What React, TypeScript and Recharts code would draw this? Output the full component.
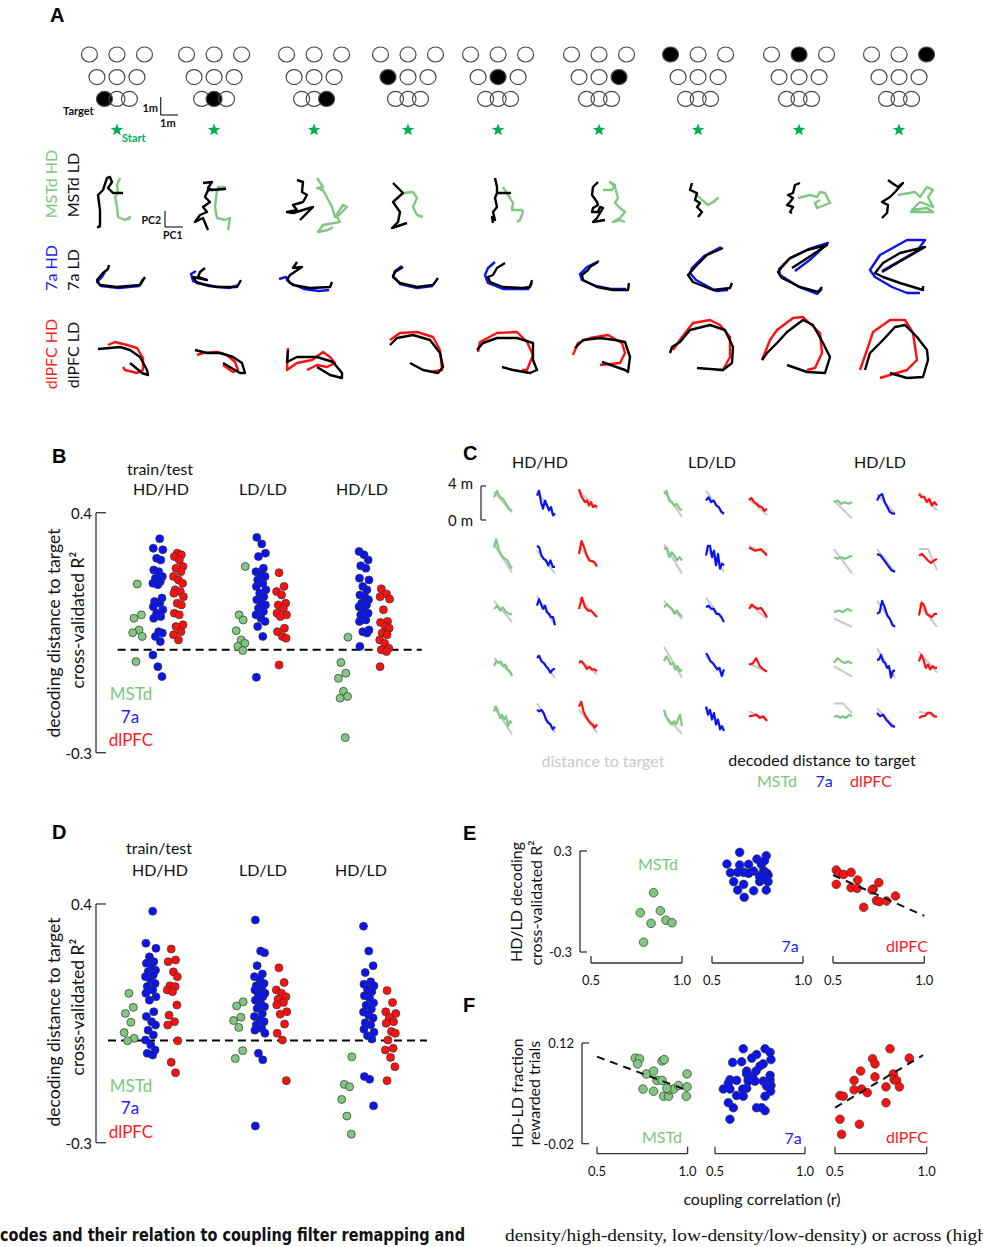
import React from 'react';
import { ScatterChart, Scatter, XAxis, YAxis, ReferenceLine } from 'recharts';

const FONT = 'Lato, "Open Sans", "DejaVu Sans", sans-serif';
const HEAD = '"Liberation Sans", Arial, sans-serif';
const GREEN = '#80c880';
const GREEN_TXT = '#7cc77c';
const BLUE = '#0a14f0';
const BLUE_TXT = '#1a1aff';
const RED = '#ff1010';
const RED_TXT = '#ff1a1a';
const STAR_GREEN = '#00b050';
const TRUE_GRAY = '#c8c8c8';

// ---------------- Panel A data ----------------
const CONFIG_CENTERS_M = [7.31, 13.38, 19.63, 25.5, 31.13, 37.44, 43.63, 49.94, 56.19];
const TARGET_ROW_Y_M = [1.94, 3.31, 4.72];
const TARGET_ROW_DX_M = [[-0.78, 0, 0.78], [-1.25, 0, 1.25], [-1.72, 0, 1.72]];
const FILLED_TARGET = [0, 1, 2, 3, 4, 5, 6, 7, 8];
const TRAJ_COL_X = [117, 214, 314, 408, 498, 599, 698, 799, 899];

const MSTD_LD = [
  [[-16,-21],[-19,-22],[-17,-20],[-17,-5],[-19,10],[-14,15],[-10,27],[-7,28],[-5,23],[-9,17],[-4,12],[6,12]],
  [[-11,22],[-2,23],[-6,17],[-2,15],[11,16],[-6,15],[-9,8],[-4,3],[-11,-2],[-7,-7],[-14,-10],[-19,-17],[-11,-13],[-6,-25]],
  [[-17,25],[-11,23],[-12,13],[-7,10],[-11,3],[-21,0],[-17,-5],[-27,-7],[-21,-8],[-1,-2],[-14,-15]],
  [[-15,22],[-10,17],[-5,12],[-15,3],[-8,-7],[-10,-17],[-16,-23],[-1,-18]],
  [[-3,27],[-1,18],[-1,12],[12,12],[-1,12],[-3,7],[-1,-2],[-5,-7],[-3,-15],[-6,-12],[-5,-18]],
  [[-1,23],[-6,18],[-7,10],[-2,3],[-1,0],[-6,-3],[-7,-7],[-1,-7],[1,-2],[4,-3],[-2,-13],[-6,-17],[6,-15]],
  [[-6,22],[-8,15],[-1,12],[-3,5],[2,2],[-1,-2],[4,-7],[0,-12]],
  [[1,22],[-4,20],[-6,12],[-11,10],[-6,7],[-9,3],[-12,0],[-6,-2],[-9,-7],[-7,-8]],
  [[-11,25],[-7,22],[-1,18],[4,22],[-4,13],[-9,8],[-17,3],[-11,0],[-12,-8],[-17,-13]],
];
const MSTD_HD = [
  [[3,27],[0,20],[1,13],[-2,8],[0,-2],[1,-12],[8,-15],[13,-12],[11,-15]],
  [[3,18],[11,18],[3,15],[1,-2],[3,-13],[11,-15],[16,-13],[14,-25]],
  [[3,27],[9,18],[3,17],[9,15],[18,-2],[21,-12],[29,0],[33,-2],[23,-12],[26,-17],[9,-20],[4,-27],[14,-25],[19,-22]],
  [[-5,12],[5,13],[9,7],[5,-2],[9,-10],[15,-12]],
  [[5,18],[12,7],[15,2],[14,-5],[24,-5],[25,-7],[22,-15],[19,-17]],
  [[4,15],[13,15],[16,20],[11,23],[16,18],[19,7],[16,2],[21,-3],[26,-7],[21,-13],[14,-17],[21,-15],[26,-17]],
  [[-6,15],[-1,10],[4,5],[10,0],[15,3],[20,7],[15,2]],
  [[-1,7],[11,10],[18,8],[21,13],[26,12],[31,2],[18,-3],[16,2],[21,5]],
  [[-1,10],[16,13],[21,8],[28,18],[34,15],[29,8],[34,-2],[21,3],[13,-5],[28,-3],[34,-7],[11,-7]],
];
const A7_LD = [
  [[-8,12],[-9,8],[-14,4],[-20,-3],[-17,-8],[0,-10],[23,-8],[28,0]],
  [[-9,9],[-14,5],[-16,0],[-7,-3],[-21,0],[-17,-6],[3,-10],[23,-10],[27,-3]],
  [[-17,15],[-21,9],[-12,10],[-24,2],[-27,-3],[-21,-8],[-4,-11],[16,-10],[18,-5]],
  [[-5,10],[-13,5],[-15,0],[-8,-6],[9,-10],[25,-8],[30,-1]],
  [[7,14],[-1,9],[-5,2],[-10,0],[-8,-5],[5,-10],[25,-11],[32,-10],[34,-3]],
  [[-1,15],[-9,10],[-11,7],[-17,2],[-16,-3],[-2,-10],[14,-13],[29,-13],[30,-6]],
  [[25,29],[9,22],[-1,12],[-10,2],[-5,-5],[15,-13],[32,-11],[34,-6]],
  [[-7,9],[10,20],[28,32],[8,27],[-9,19],[-17,10],[-21,5],[-17,-1],[1,-10],[19,-15],[23,-10]],
  [[-17,5],[0,15],[26,30],[1,24],[-16,14],[-24,4],[-16,0],[1,-6],[24,-13],[24,-9]],
];
const A7_HD = [
  [[-12,5],[-15,0],[-20,-5],[-16,-9],[2,-11],[22,-9],[26,-2]],
  [[-18,6],[-23,3],[-21,-4],[-5,-9],[15,-11],[25,-8]],
  [[-35,-2],[-28,0],[-24,-6],[-10,-12],[5,-14],[15,-13]],
  [[-6,11],[-13,6],[-15,1],[-8,-7],[9,-11],[25,-9]],
  [[-3,15],[-10,9],[-13,2],[-10,-6],[5,-12],[30,-12],[34,-6]],
  [[0,16],[-12,10],[-19,3],[-17,-3],[-3,-9],[12,-12],[27,-12]],
  [[23,30],[6,21],[-6,9],[-8,4],[-2,-3],[18,-14],[30,-13]],
  [[-4,6],[12,18],[29,34],[10,28],[-10,18],[-20,8],[-19,2],[0,-10],[18,-17],[23,-12]],
  [[-17,6],[18,26],[26,37],[8,37],[-19,22],[-29,7],[-24,0],[-7,-10],[8,-16],[21,-16]],
];
const PFC_LD = [
  [[-19,3],[-7,4],[3,5],[13,2],[23,-5],[30,-18],[31,-23],[25,-21],[13,-11]],
  [[-19,2],[-7,-1],[6,-1],[19,-5],[28,-11],[31,-21],[26,-21],[9,-11]],
  [[-26,2],[-27,-10],[-17,-5],[3,-5],[19,-10],[28,-21],[28,-26],[16,-23],[3,-15]],
  [[-18,7],[-11,14],[5,17],[22,12],[32,-1],[35,-15],[30,-21],[15,-18],[2,-11]],
  [[-21,2],[-15,9],[-1,14],[19,14],[35,9],[35,-8],[39,-18],[32,-21],[15,-18],[4,-15]],
  [[-24,4],[-16,12],[1,14],[16,12],[26,10],[31,-5],[29,-20],[26,-18],[3,-10]],
  [[-28,-1],[-26,5],[-18,10],[-8,22],[12,27],[27,22],[35,5],[34,-11],[25,-18],[-1,-16]],
  [[-37,-8],[-32,-1],[-22,9],[-12,20],[4,32],[14,27],[24,9],[31,-5],[26,-21],[8,-20],[-12,-13]],
  [[-34,-18],[-29,-1],[-16,12],[-4,25],[6,27],[18,15],[28,2],[29,-8],[24,-25],[8,-26],[-9,-21]],
];
const PFC_HD = [
  [[-9,7],[-2,10],[10,7],[20,4],[26,-6],[26,-18],[20,-21],[8,-18],[6,-15]],
  [[-17,-3],[-11,-1],[3,0],[13,-3],[21,-10],[24,-18],[19,-20],[9,-13]],
  [[-26,4],[-27,-18],[-17,-11],[-2,-8],[9,0],[16,-5],[21,-11],[13,-15],[3,-13],[-7,-18]],
  [[-18,12],[-8,19],[9,20],[25,15],[32,2],[34,-18],[22,-20]],
  [[-20,0],[-18,10],[-1,19],[19,20],[29,10],[35,-3],[29,-18],[24,-18]],
  [[-26,-3],[-21,9],[-9,14],[9,17],[23,9],[26,-1],[21,-11],[1,-13]],
  [[-25,2],[-16,15],[-5,29],[12,32],[22,27],[32,15],[32,-5],[25,-18],[19,-18]],
  [[-37,-8],[-29,12],[-22,22],[-6,34],[4,35],[21,19],[23,-1],[16,-16],[8,-18]],
  [[-39,-18],[-32,2],[-26,20],[-9,32],[6,32],[14,19],[18,-8],[8,-18],[-9,-23],[-19,-26]],
];

// ---------------- Panel B / D data ----------------
const REGIONS = ['MSTd', '7a', 'dlPFC'];
const TRAIN_TEST = ['HD/HD', 'LD/LD', 'HD/LD'];
const B_HDHD_MSTD = [0.192,0.102,0.092,0.058,0.050,0.039,-0.034];
const B_HDHD_7A = [0.324,0.296,0.292,0.267,0.262,0.233,0.228,0.214,0.209,0.199,0.194,0.190,0.151,0.141,0.136,0.126,0.117,0.107,0.097,0.092,0.053,0.049,0.039,0.024,-0.015,-0.049,-0.078];
const B_HDHD_PFC = [0.282,0.277,0.272,0.262,0.243,0.238,0.228,0.214,0.204,0.194,0.175,0.170,0.165,0.155,0.136,0.131,0.107,0.102,0.073,0.068,0.053,0.044,0.029];
const B_LDLD_MSTD = [0.243,0.102,0.087,0.056,0.029,0.019,0.010,-0.002];
const B_LDLD_7A = [0.328,0.309,0.282,0.272,0.238,0.228,0.219,0.214,0.204,0.194,0.185,0.175,0.165,0.155,0.146,0.136,0.131,0.121,0.112,0.102,0.092,0.083,0.068,0.039,-0.080];
const B_LDLD_PFC = [0.225,0.185,0.170,0.160,0.136,0.131,0.121,0.107,0.102,0.097,0.063,0.053,0.039,0.034,-0.044];
const B_HDLD_MSTD = [0.037,-0.037,-0.068,-0.083,-0.121,-0.136,-0.141,-0.256];
const B_HDLD_7A = [0.287,0.277,0.262,0.245,0.238,0.209,0.204,0.185,0.175,0.160,0.155,0.146,0.136,0.131,0.126,0.117,0.107,0.102,0.087,0.083,0.058,0.053,0.049,0.010];
const B_HDLD_PFC = [0.178,0.163,0.155,0.148,0.117,0.083,0.080,0.068,0.063,0.049,0.044,0.029,0.019,0.005,0.000,-0.005,-0.049];

const D_HDHD_MSTD = [0.138,0.097,0.079,0.053,0.023,0.006,-0.001];
const D_HDHD_7A = [0.379,0.285,0.270,0.245,0.231,0.226,0.216,0.206,0.201,0.192,0.187,0.177,0.167,0.158,0.148,0.138,0.128,0.118,0.084,0.070,0.055,0.045,0.030,0.016,0.001,-0.013,-0.028,-0.038,-0.043];
const D_HDHD_PFC = [0.268,0.236,0.231,0.201,0.187,0.160,0.158,0.148,0.143,0.104,0.074,0.055,0.045,-0.001,-0.064,-0.095];
const D_LDLD_MSTD = [0.113,0.101,0.068,0.058,0.038,-0.030,-0.053];
const D_LDLD_7A = [0.353,0.262,0.257,0.219,0.195,0.187,0.179,0.167,0.160,0.153,0.148,0.138,0.133,0.128,0.118,0.109,0.099,0.094,0.079,0.070,0.060,0.055,0.045,0.035,0.030,0.021,-0.038,-0.057,-0.251];
const D_LDLD_PFC = [0.213,0.170,0.148,0.138,0.128,0.121,0.111,0.104,0.084,0.077,0.048,0.021,0.001,-0.118];
const D_HDLD_MSTD = [-0.048,-0.129,-0.136,-0.173,-0.222,-0.275];
const D_HDLD_7A = [0.335,0.262,0.219,0.199,0.172,0.165,0.160,0.150,0.143,0.131,0.124,0.110,0.103,0.092,0.083,0.074,0.066,0.052,0.046,0.033,0.024,0.014,0.004,-0.106,-0.114,-0.192];
const D_HDLD_PFC = [0.146,0.111,0.084,0.079,0.068,0.055,0.050,0.026,0.021,0.001,-0.023,-0.028,-0.050,-0.077,-0.118];

const B_GROUPS = [[B_HDHD_MSTD,B_HDHD_7A,B_HDHD_PFC],[B_LDLD_MSTD,B_LDLD_7A,B_LDLD_PFC],[B_HDLD_MSTD,B_HDLD_7A,B_HDLD_PFC]];
const D_GROUPS = [[D_HDHD_MSTD,D_HDHD_7A,D_HDHD_PFC],[D_LDLD_MSTD,D_LDLD_7A,D_LDLD_PFC],[D_HDLD_MSTD,D_HDLD_7A,D_HDLD_PFC]];
const JITTER = [0, 0.2, -0.16, 0.09, -0.22, 0.24, -0.06, 0.14, -0.2, 0.04, 0.22, -0.12, 0.12, -0.24];

// ---------------- Panel C data (metres) ----------------
const C_HDHD = [
  [{dec:[2.67,3.43,2.67,2.48,1.9,1.33,1.07],tru:[3.3,0.9]},{dec:[2.86,3.43,2.1,1.33,2.29,1.71,1.14,1.52,0.57,0.76],tru:[3.4,0.4]},{dec:[3.62,2.86,2.48,2.1,2.29,1.71,2.1,1.52,1.71,1.52],tru:[3.43,1.33]}],
  [{dec:[3.24,4.19,3.05,2.48,2.1,1.9,1.71,1.14,0.76],tru:[3.6,0.3]},{dec:[3.43,3.24,2.29,1.9,1.71,1.14,1.71,0.95,0.95],tru:[2.86,0.19]},{dec:[2.48,4.0,3.24,2.29,1.71,1.64,1.52,1.03],tru:[3.4,0.9]}],
  [{dec:[2.48,2.86,2.29,2.67,2.1,1.9,1.83],tru:[3.43,0.95]},{dec:[2.86,3.62,3.05,2.48,2.86,2.1,1.9,1.52,1.52,0.57],tru:[4.0,0.57]},{dec:[2.48,3.81,2.67,2.29,2.29,1.9,1.52],tru:[3.81,1.52]}],
  [{dec:[2.1,2.67,2.48,2.67,2.1,2.29,1.71,1.52,0.95],tru:[3.05,1.14]},{dec:[3.05,3.31,2.67,2.48,2.1,1.79,1.33,1.71,1.79],tru:[3.43,0.76]},{dec:[2.48,2.67,2.29,1.79,2.02,1.71,1.71,1.52],tru:[2.86,1.14]}],
  [{dec:[3.24,3.81,3.24,2.48,2.86,2.29,2.67,1.52,2.1,1.9],tru:[3.81,0.57]},{dec:[3.43,3.24,3.43,3.05,2.29,1.9,1.71,1.14,1.45],tru:[4.19,0.76]},{dec:[3.81,4.38,3.24,2.67,2.29,1.9,1.71,1.33,1.71],tru:[3.43,0.76]}],
];
const C_LDLD = [
  [{dec:[3.05,3.43,2.29,2.1,1.71,1.9,1.33,1.14],tru:[3.43,0.38]},{dec:[2.29,2.67,2.1,2.29,1.71,1.52,0.95,0.76],tru:[3.43,0.57]},{dec:[2.36,2.59,2.1,1.9,1.6,1.52,1.07,1.33],tru:[2.48,0.57]}],
  [{dec:[3.05,3.24,2.1,2.67,2.29,1.71,2.1,1.71],tru:[3.62,0.19]},{dec:[2.29,3.43,3.43,2.1,2.86,1.14,2.48,0.76,1.33,1.14],tru:[3.24,0.38]},{dec:[3.24,2.86,3.05,2.29],tru:[3.43,2.5]}],
  [{dec:[2.67,3.05,2.74,2.48,1.9,2.29,1.9,1.52],tru:[3.43,1.33]},{dec:[2.67,2.86,2.48,2.48,1.9,1.9,1.52,0.95],tru:[3.81,0.95]},{dec:[2.48,2.97,2.67,2.48,2.59,2.1,1.52],tru:[3.05,1.33]}],
  [{dec:[2.67,3.24,2.86,2.29,2.48,1.71,2.1,1.52,1.71],tru:[4.38,0.76]},{dec:[3.62,3.24,2.67,2.48,2.1,1.71,1.9,0.95,1.71],tru:[3.24,0.95]},{dec:[2.29,2.4,3.05,2.1,1.71,1.45],tru:[2.4,1.45]}],
  [{dec:[3.43,2.67,2.29,1.9,1.71,2.1,1.71,2.29,2.86,1.52],tru:[2.9,0.6]},{dec:[3.81,2.86,3.43,2.29,3.05,1.71,2.29,1.14,1.52,0.95],tru:[3.81,0.95]},{dec:[2.67,2.74,2.86,2.48,2.67,2.1],tru:[3.24,2.29]}],
];
const C_HDLD = [
  [{dec:[2.1,2.29,1.9,2.1,1.9,2.1],tru:[2.29,0.19]},{dec:[2.29,2.86,3.05,2.1,1.52,0.95,0.76,0.76],tru:[3.05,0.76]},{dec:[3.05,2.67,2.74,2.1,2.48,1.71,2.1,1.71],tru:[3.24,1.14]}],
  [{dec:[2.1,1.9,2.1,1.9,2.1,2.29],tru:[3.05,0.19]},{dec:[2.48,2.29,1.71,1.14,0.57,0.38],tru:[3.05,0.38]},{dec:[2.29,2.48,2.1,1.71,1.41,1.71,1.9],tru:[3.05,3.05,0.57]}],
  [{dec:[2.1,2.29,2.1,2.48,2.21],tru:[1.33,0.38]},{dec:[1.9,2.1,3.43,2.67,1.71,1.33,0.57,0.38],tru:[3.43,0.38]},{dec:[1.71,3.24,2.86,1.9,1.71,1.52,1.9,1.9],tru:[3.05,0.38]}],
  [{dec:[2.48,3.05,2.67,2.48,2.67,2.4],tru:[2.1,0.88]},{dec:[2.86,2.86,3.43,2.67,2.48,1.9,2.1,0.76,1.52,1.6],tru:[4.19,0.76]},{dec:[2.67,3.43,2.86,1.9,2.29,1.71,2.1,1.9,1.9],tru:[3.81,1.33]}],
  [{dec:[2.59,2.74,2.48,2.67,2.48,2.86,2.67],tru:[4.19,4.19,3.05]},{dec:[3.05,2.67,2.86,2.29,1.9,1.52,1.45],tru:[3.62,1.33]},{dec:[2.48,2.67,2.74,3.12,3.05,2.67,2.59],tru:[3.24,2.67]}],
];
const C_COL_X = [503, 546, 588, 673, 715, 758, 843, 886, 928];
const C_ROW_ZERO = [520, 575, 630, 684, 739];

// ---------------- Panel E data ----------------
const E_MSTD_R = [0.844,0.771,0.881,0.830,0.912,0.945,0.789];
const E_MSTD_R2 = [0.052,-0.067,-0.055,-0.130,-0.111,-0.126,-0.242];
const E_7A_R = [0.652,0.582,0.652,0.701,0.747,0.798,0.771,0.789,0.601,0.641,0.729,0.784,0.802,0.674,0.762,0.808,0.619,0.674,0.762,0.808,0.641,0.729,0.798,0.677,0.762,0.793,0.701];
const E_7A_R2 = [0.292,0.223,0.217,0.221,0.252,0.272,0.221,0.242,0.171,0.173,0.181,0.183,0.167,0.173,0.153,0.157,0.118,0.102,0.118,0.118,0.068,0.064,0.068,0.025,0.147,0.138,0.167];
const E_PFC_R = [0.518,0.531,0.558,0.599,0.635,0.518,0.599,0.632,0.720,0.751,0.738,0.754,0.793,0.842,0.668,0.714];
const E_PFC_R2 = [0.187,0.167,0.161,0.173,0.128,0.102,0.082,0.078,0.074,0.112,0.005,-0.001,0.003,0.033,-0.034,0.068];
const E_PFC_FIT_R = [0.5, 1.0];
const E_PFC_FIT_R2 = [0.157, -0.085];

// ---------------- Panel F data ----------------
const F_MSTD_R = [0.711,0.735,0.724,0.859,0.871,0.772,0.812,0.831,0.859,0.754,0.812,0.868,0.895,0.901,0.923,0.950,0.997,0.997,0.993,0.886];
const F_MSTD_FR = [0.099,0.098,0.091,0.095,0.097,0.077,0.081,0.068,0.068,0.056,0.053,0.046,0.046,0.055,0.056,0.061,0.077,0.059,0.046,0.057];
const F_MSTD_FIT_R = [0.5, 1.0];
const F_MSTD_FIT_FR = [0.101, 0.054];
const F_7A_R = [0.657,0.778,0.806,0.731,0.704,0.768,0.811,0.648,0.598,0.676,0.728,0.806,0.583,0.574,0.620,0.685,0.709,0.768,0.806,0.811,0.676,0.654,0.546,0.583,0.809,0.620,0.657,0.778,0.574,0.602,0.731,0.759,0.778,0.583,0.685,0.722,0.787,0.750,0.676];
const F_7A_FR = [0.112,0.112,0.107,0.104,0.099,0.091,0.097,0.094,0.093,0.081,0.081,0.075,0.069,0.064,0.068,0.069,0.074,0.067,0.069,0.061,0.057,0.056,0.056,0.056,0.053,0.047,0.046,0.046,0.037,0.030,0.030,0.030,0.026,0.014,0.067,0.067,0.060,0.088,0.077];
const F_PFC_R = [0.800,0.905,0.705,0.718,0.640,0.818,0.718,0.822,0.836,0.604,0.778,0.851,0.604,0.645,0.676,0.527,0.545,0.778,0.527,0.633,0.536];
const F_PFC_FR = [0.112,0.099,0.098,0.091,0.081,0.077,0.073,0.069,0.068,0.068,0.059,0.059,0.055,0.056,0.051,0.047,0.046,0.037,0.014,0.007,-0.007];
const F_PFC_FIT_R = [0.5, 0.98];
const F_PFC_FIT_FR = [0.030, 0.103];

// ---------------- helpers ----------------
const noDot = () => <g />;
const zip = (xs: number[], ys: number[]) => xs.map((x, i) => ({ x, y: ys[i] }));

const targetShape = (p: any) => (
  <ellipse cx={p.cx} cy={p.cy} rx={8} ry={7.5} fill={p.payload.filled ? '#000' : 'none'} stroke="#4a4a4a" strokeWidth={1.2} />
);
const starShape = (p: any) => {
  const pts: string[] = [];
  for (let i = 0; i < 10; i++) {
    const r = i % 2 === 0 ? 6.6 : 2.7;
    const a = -Math.PI / 2 + (i * Math.PI) / 5;
    pts.push(`${p.cx + r * Math.cos(a)},${p.cy + r * Math.sin(a)}`);
  }
  return <polygon points={pts.join(' ')} fill={STAR_GREEN} />;
};
const dotShape = (fill: string, r: number) => (p: any) => (
  <circle cx={p.cx} cy={p.cy} r={r} fill={fill} stroke="#333" strokeWidth={0.7} />
);

const leftTick = (len: number, gap: number, size: number, digits: number) => (p: any) => (
  <g>
    <line x1={p.x} y1={p.y} x2={p.x + len} y2={p.y} stroke="#333" strokeWidth={1.3} />
    <text x={p.x - gap} y={p.y} textAnchor="end" dominantBaseline="central" fontSize={size} fontFamily={FONT} fill="#111">
      {Number(p.payload.value).toFixed(digits)}
    </text>
  </g>
);
const bottomTick = (p: any) => (
  <g>
    <line x1={p.x} y1={p.y} x2={p.x} y2={p.y - 7} stroke="#333" strokeWidth={1.3} />
    <text x={p.x} y={p.y + 17} textAnchor="middle" dominantBaseline="central" fontSize={13} fontFamily={FONT} fill="#111">
      {Number(p.payload.value).toFixed(1)}
    </text>
  </g>
);

const abs = (left: number, top: number, width: number, height: number): React.CSSProperties => ({
  position: 'absolute', left, top, width, height,
});

// ---------------- components ----------------
function TargetsRow() {
  const circles: any[] = [];
  CONFIG_CENTERS_M.forEach((cx, c) => {
    TARGET_ROW_Y_M.forEach((ry, r) => {
      TARGET_ROW_DX_M[r].forEach((dx, k) => {
        circles.push({ x: cx + dx, y: ry, filled: r * 3 + k === FILLED_TARGET[c] });
      });
    });
  });
  const stars = CONFIG_CENTERS_M.map((cx) => ({ x: cx, y: 0 }));
  return (
    <div style={abs(0, 0, 983, 150)}>
      <ScatterChart width={983} height={150} margin={{ top: 0, right: 0, bottom: 0, left: 0 }}>
        <XAxis type="number" dataKey="x" domain={[0, 61.4375]} hide />
        <YAxis type="number" dataKey="y" domain={[-1.25, 8.125]} hide />
        <Scatter data={circles} shape={targetShape} isAnimationActive={false} />
        <Scatter data={stars} shape={starShape} isAnimationActive={false} />
      </ScatterChart>
    </div>
  );
}

function TrajRow({ top, height, domain, hd, ld, color }: any) {
  const toPts = (tr: number[][], i: number) => tr.map(([dx, dy]) => ({ x: TRAJ_COL_X[i] + dx, y: dy }));
  return (
    <div style={abs(0, top, 983, height)}>
      <ScatterChart width={983} height={height} margin={{ top: 0, right: 0, bottom: 0, left: 0 }}>
        <XAxis type="number" dataKey="x" domain={[0, 983]} hide />
        <YAxis type="number" dataKey="y" domain={domain} hide />
        {hd.map((tr: number[][], i: number) => (
          <Scatter key={'h' + i} data={toPts(tr, i)} shape={noDot} isAnimationActive={false}
            line={{ stroke: color, strokeWidth: 2.4, strokeLinejoin: 'round' }} />
        ))}
        {ld.map((tr: number[][], i: number) => (
          <Scatter key={'l' + i} data={toPts(tr, i)} shape={noDot} isAnimationActive={false}
            line={{ stroke: '#000', strokeWidth: 2.4, strokeLinejoin: 'round' }} />
        ))}
      </ScatterChart>
    </div>
  );
}

const REGION_FILL = [GREEN, BLUE, RED];

function StripChart({ top, marginTop, marginBottom, xDomain, dash, groups }: any) {
  const series: any[] = [];
  groups.forEach((g: number[][], gi: number) => {
    g.forEach((vals: number[], ci: number) => {
      series.push({
        key: `${gi}-${ci}`,
        fill: REGION_FILL[ci],
        data: vals.map((v, i) => ({ x: 5 * gi + ci + JITTER[(i + ci * 3 + gi * 5) % JITTER.length], y: v })),
      });
    });
  });
  return (
    <div style={abs(0, top, 440, 280)}>
      <ScatterChart width={440} height={280} margin={{ top: marginTop, right: 10, bottom: marginBottom, left: 0 }}>
        <XAxis type="number" dataKey="x" domain={xDomain} hide />
        <YAxis type="number" dataKey="y" domain={[-0.3, 0.4]} ticks={[0.4, -0.3]} interval={0} width={96}
          axisLine={{ stroke: '#333', strokeWidth: 1.3 }} tickLine={false} tickSize={0} tickMargin={0}
          tick={leftTick(10, 4, 15, 1)} />
        <ReferenceLine segment={[{ x: dash[0], y: 0 }, { x: dash[1], y: 0 }]} stroke="#000" strokeWidth={2} strokeDasharray="8 5" />
        {series.map((s) => (
          <Scatter key={s.key} data={s.data} shape={dotShape(s.fill, 4)} isAnimationActive={false} />
        ))}
      </ScatterChart>
    </div>
  );
}

function TraceCell({ left, top, dec, tru, color }: any) {
  const decPts = dec.map((v: number, i: number) => ({ x: i / (dec.length - 1), y: v }));
  const truPts = tru.map((v: number, i: number) => ({ x: i / (tru.length - 1), y: v }));
  return (
    <div style={abs(left, top, 22, 48)}>
      <ScatterChart width={22} height={48} margin={{ top: 0, right: 2, bottom: 0, left: 2 }}>
        <XAxis type="number" dataKey="x" domain={[0, 1]} hide />
        <YAxis type="number" dataKey="y" domain={[0, 5.647]} hide />
        <Scatter data={truPts} shape={noDot} isAnimationActive={false} line={{ stroke: TRUE_GRAY, strokeWidth: 2 }} />
        <Scatter data={decPts} shape={noDot} isAnimationActive={false} line={{ stroke: color, strokeWidth: 2.2, strokeLinejoin: 'round' }} />
      </ScatterChart>
    </div>
  );
}

// y axis drawn in its own narrow chart; it carries the first sub-plot's points (undrawn) so the axis has data
function CorrYAxis({ axisX, plotTop, plotBottom, domain, ticks, digits, pts }: any) {
  const h = plotBottom - plotTop + 20;
  return (
    <div style={abs(axisX - 60, plotTop - 10, 70, h)}>
      <ScatterChart width={70} height={h} margin={{ top: 10, right: 0, bottom: 10, left: 0 }}>
        <XAxis type="number" dataKey="x" domain={[0, 1]} hide allowDataOverflow />
        <YAxis type="number" dataKey="y" domain={domain} ticks={ticks} interval={0} width={60} allowDataOverflow
          axisLine={{ stroke: '#333', strokeWidth: 1.3 }} tickLine={false} tickSize={0} tickMargin={0}
          tick={leftTick(7, 8, 13, digits)} />
        <Scatter data={pts} shape={noDot} isAnimationActive={false} />
      </ScatterChart>
    </div>
  );
}

function CorrSub({ left, right, plotTop, axisY, yDomain, pts, fill, fit }: any) {
  const w = right - left + 28;
  const h = axisY - plotTop + 40;
  return (
    <div style={abs(left - 14, plotTop - 10, w, h)}>
      <ScatterChart width={w} height={h} margin={{ top: 10, right: 14, bottom: 0, left: 14 }}>
        <XAxis type="number" dataKey="x" domain={[0.5, 1]} ticks={[0.5, 1]} interval={0} height={30}
          axisLine={{ stroke: '#333', strokeWidth: 1.3 }} tickLine={false} tickSize={0} tickMargin={0} tick={bottomTick} />
        <YAxis type="number" dataKey="y" domain={yDomain} hide />
        <Scatter data={pts} shape={dotShape(fill, 4.3)} isAnimationActive={false} />
        {fit ? (
          <Scatter data={fit} shape={noDot} isAnimationActive={false}
            line={{ stroke: '#111', strokeWidth: 2, strokeDasharray: '8 6' }} />
        ) : null}
      </ScatterChart>
    </div>
  );
}

function T({ x, y, children, size = 16, anchor = 'middle', color = '#111', weight = 400, family = FONT, rotate = false }: any) {
  if (rotate) {
    return (
      <text transform={`translate(${x},${y}) rotate(-90)`} textAnchor={anchor} fontSize={size} fill={color} fontWeight={weight} fontFamily={family}>
        {children}
      </text>
    );
  }
  return (
    <text x={x} y={y} textAnchor={anchor} dominantBaseline="central" fontSize={size} fill={color} fontWeight={weight} fontFamily={family}>
      {children}
    </text>
  );
}

function Letter({ x, y, children }: any) {
  return <text x={x} y={y} fontSize={20} fontWeight={700} fontFamily={HEAD} fill="#000">{children}</text>;
}

export default function App() {
  const cGroups = [C_HDHD, C_LDLD, C_HDLD];
  const cells: any[] = [];
  cGroups.forEach((grp, gi) => {
    grp.forEach((row, ri) => {
      row.forEach((cell, ci) => {
        cells.push(
          <TraceCell key={`${gi}-${ri}-${ci}`} left={C_COL_X[gi * 3 + ci] - 11} top={C_ROW_ZERO[ri] - 48}
            dec={cell.dec} tru={cell.tru} color={REGION_FILL[ci]} />
        );
      });
    });
  });

  const E_PLOT_TOP = 851, E_AXIS_Y = 963;
  const E_YDOM = [-0.3653, 0.3];
  const F_PLOT_TOP = 1043.3, F_AXIS_Y = 1154;
  const F_YDOM = [-0.0339, 0.12];

  return (
    <div style={{ position: 'absolute', left: 0, top: 0, width: 983, height: 1247, overflow: 'hidden', background: '#fff', fontFamily: FONT }}>
      <TargetsRow />
      <TrajRow top={160} height={90} domain={[-45, 45]} hd={MSTD_HD} ld={MSTD_LD} color={GREEN} />
      <TrajRow top={230} height={90} domain={[-43, 47]} hd={A7_HD} ld={A7_LD} color={BLUE} />
      <TrajRow top={300} height={100} domain={[-48, 52]} hd={PFC_HD} ld={PFC_LD} color={RED} />

      <StripChart top={500} marginTop={12.7} marginBottom={27.3} xDomain={[-2, 14.2]} dash={[-0.95, 13.8]} groups={B_GROUPS} />
      <StripChart top={890} marginTop={14} marginBottom={27.3} xDomain={[-1.51, 13.81]} dash={[-0.96, 13.67]} groups={D_GROUPS} />

      {cells}

      <CorrYAxis axisX={580} plotTop={851} plotBottom={952} domain={[-0.3, 0.3]} ticks={[0.3, -0.3]} digits={1}
        pts={zip(E_MSTD_R, E_MSTD_R2)} />
      <CorrSub left={590.7} right={681.7} plotTop={E_PLOT_TOP} axisY={E_AXIS_Y} yDomain={E_YDOM} pts={zip(E_MSTD_R, E_MSTD_R2)} fill={GREEN} />
      <CorrSub left={711.7} right={802.7} plotTop={E_PLOT_TOP} axisY={E_AXIS_Y} yDomain={E_YDOM} pts={zip(E_7A_R, E_7A_R2)} fill={BLUE} />
      <CorrSub left={832.7} right={924} plotTop={E_PLOT_TOP} axisY={E_AXIS_Y} yDomain={E_YDOM} pts={zip(E_PFC_R, E_PFC_R2)} fill={RED} fit={zip(E_PFC_FIT_R, E_PFC_FIT_R2)} />

      <CorrYAxis axisX={581.7} plotTop={1043.3} plotBottom={1144} domain={[-0.02, 0.12]} ticks={[0.12, -0.02]} digits={2}
        pts={zip(F_MSTD_R, F_MSTD_FR)} />
      <CorrSub left={596.7} right={687.3} plotTop={F_PLOT_TOP} axisY={F_AXIS_Y} yDomain={F_YDOM} pts={zip(F_MSTD_R, F_MSTD_FR)} fill={GREEN} fit={zip(F_MSTD_FIT_R, F_MSTD_FIT_FR)} />
      <CorrSub left={715} right={805} plotTop={F_PLOT_TOP} axisY={F_AXIS_Y} yDomain={F_YDOM} pts={zip(F_7A_R, F_7A_FR)} fill={BLUE} />
      <CorrSub left={835} right={926.7} plotTop={F_PLOT_TOP} axisY={F_AXIS_Y} yDomain={F_YDOM} pts={zip(F_PFC_R, F_PFC_FR)} fill={RED} fit={zip(F_PFC_FIT_R, F_PFC_FIT_FR)} />

      <svg width={983} height={1247} style={{ position: 'absolute', left: 0, top: 0, pointerEvents: 'none' }}>
        <Letter x={50} y={22}>A</Letter>
        <Letter x={52} y={463}>B</Letter>
        <Letter x={463} y={460}>C</Letter>
        <Letter x={52} y={839}>D</Letter>
        <Letter x={463} y={840}>E</Letter>
        <Letter x={463} y={1012}>F</Letter>

        <T x={63} y={110} size={11} anchor="start" weight={700}>Target</T>
        <T x={158} y={107} size={11} anchor="end" weight={700}>1m</T>
        <T x={160} y={122} size={11} anchor="start" weight={700}>1m</T>
        <line x1={160.7} y1={97} x2={160.7} y2={115} stroke="#222" strokeWidth={1.2} />
        <line x1={160.7} y1={115} x2={178} y2={115} stroke="#222" strokeWidth={1.2} />
        <T x={122} y={137} size={11} anchor="start" weight={700} color={STAR_GREEN}>Start</T>
        <T x={161} y={220} size={10.5} anchor="end" weight={700}>PC2</T>
        <T x={163} y={235} size={10.5} anchor="start" weight={700}>PC1</T>
        <line x1={165} y1={211} x2={165} y2={227} stroke="#222" strokeWidth={1.2} />
        <line x1={165} y1={227} x2={183} y2={227} stroke="#222" strokeWidth={1.2} />

        <T x={57} y={184} rotate color={GREEN_TXT}>MSTd HD</T>
        <T x={79} y={185} rotate>MSTd LD</T>
        <T x={57} y={268} rotate color={BLUE_TXT}>7a HD</T>
        <T x={79} y={270} rotate>7a LD</T>
        <T x={57} y={354} rotate color={RED_TXT}>dlPFC HD</T>
        <T x={79} y={355} rotate>dlPFC LD</T>

        <T x={160} y={468}>train/test</T>
        <T x={161} y={488}>{TRAIN_TEST[0]}</T>
        <T x={263} y={488}>{TRAIN_TEST[1]}</T>
        <T x={362} y={488}>{TRAIN_TEST[2]}</T>
        <T x={60} y={633} size={17.5} rotate>decoding distance to target</T>
        <T x={84} y={620} size={17.5} rotate>cross-validated R²</T>
        <T x={131} y={693} size={17} color={GREEN_TXT}>{REGIONS[0]}</T>
        <T x={130} y={716} size={17} color={BLUE_TXT}>{REGIONS[1]}</T>
        <T x={131} y={739} size={17} color={RED_TXT}>{REGIONS[2]}</T>

        <T x={159} y={847}>train/test</T>
        <T x={160} y={869}>{TRAIN_TEST[0]}</T>
        <T x={263} y={869}>{TRAIN_TEST[1]}</T>
        <T x={361} y={869}>{TRAIN_TEST[2]}</T>
        <T x={60} y={1022} size={17.5} rotate>decoding distance to target</T>
        <T x={84} y={1007} size={17.5} rotate>cross-validated R²</T>
        <T x={131} y={1085} size={17} color={GREEN_TXT}>{REGIONS[0]}</T>
        <T x={130} y={1107} size={17} color={BLUE_TXT}>{REGIONS[1]}</T>
        <T x={131} y={1131} size={17} color={RED_TXT}>{REGIONS[2]}</T>

        <T x={540} y={461}>{TRAIN_TEST[0]}</T>
        <T x={712} y={461}>{TRAIN_TEST[1]}</T>
        <T x={880} y={461}>{TRAIN_TEST[2]}</T>
        <T x={473} y={483} size={15} anchor="end">4 m</T>
        <T x={473} y={520} size={15} anchor="end">0 m</T>
        <line x1={481} y1={486} x2={481} y2={520} stroke="#222" strokeWidth={1.2} />
        <line x1={481} y1={486} x2={486} y2={486} stroke="#222" strokeWidth={1.2} />
        <line x1={481} y1={520} x2={486} y2={520} stroke="#222" strokeWidth={1.2} />
        <T x={603} y={760} color={TRUE_GRAY}>distance to target</T>
        <T x={822} y={759}>decoded distance to target</T>
        <T x={777} y={780} color={GREEN_TXT}>{REGIONS[0]}</T>
        <T x={824} y={780} color={BLUE_TXT}>{REGIONS[1]}</T>
        <T x={871} y={780} color={RED_TXT}>{REGIONS[2]}</T>

        <T x={522} y={902} rotate>HD/LD decoding</T>
        <T x={542} y={903} rotate>cross-validated R²</T>
        <T x={658} y={863} color={GREEN_TXT}>{REGIONS[0]}</T>
        <T x={790} y={945} color={BLUE_TXT}>{REGIONS[1]}</T>
        <T x={907} y={945} color={RED_TXT}>{REGIONS[2]}</T>

        <T x={523} y={1093} rotate>HD-LD fraction</T>
        <T x={540} y={1093} rotate>rewarded trials</T>
        <T x={662} y={1136} color={GREEN_TXT}>{REGIONS[0]}</T>
        <T x={793} y={1137} color={BLUE_TXT}>{REGIONS[1]}</T>
        <T x={907} y={1136} color={RED_TXT}>{REGIONS[2]}</T>
        <T x={762} y={1198}>coupling correlation (r)</T>

        <text x={0} y={1241} fontSize={17} fontWeight={700} fontFamily='"Liberation Sans Narrow", "DejaVu Sans Condensed", "Liberation Sans", sans-serif'
          textLength={465} lengthAdjust="spacingAndGlyphs" fill="#111">codes and their relation to coupling filter remapping and</text>
        <text x={505} y={1241} fontSize={17} fontFamily='"Liberation Serif", "DejaVu Serif", serif'
          textLength={482} lengthAdjust="spacingAndGlyphs" fill="#111">density/high-density, low-density/low-density) or across (high</text>
      </svg>
    </div>
  );
}
